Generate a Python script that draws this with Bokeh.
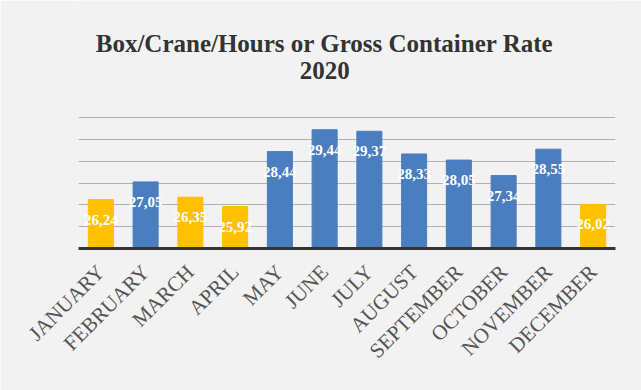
import math
from bokeh.plotting import figure
from bokeh.models import ColumnDataSource, FactorRange, Range1d, FixedTicker, LabelSet
from bokeh.core.properties import value
from bokeh.embed import file_html
from bokeh.resources import INLINE

months = ["JANUARY", "FEBRUARY", "MARCH", "APRIL", "MAY", "JUNE", "JULY",
          "AUGUST", "SEPTEMBER", "OCTOBER", "NOVEMBER", "DECEMBER"]
rates = [26.24, 27.05, 26.35, 25.92, 28.44, 29.44, 29.37, 28.33, 28.05, 27.34, 28.55, 26.02]
threshold = 27.0
y_ticks = [24, 25, 26, 27, 28, 29, 30]
title_lines = ["Box/Crane/Hours or Gross Container Rate", "2020"]

labels = [f"{v:.2f}".replace(".", ",") for v in rates]
colors = ["#FFC000" if v < threshold else "#4A7EBF" for v in rates]

src = ColumnDataSource(dict(month=months, rate=rates, label=labels, color=colors))

# frame reaches to the top of the canvas so the title can sit inside it
p = figure(width=641, height=390, output_backend="svg", toolbar_location=None,
           x_range=FactorRange(*months, range_padding=0),
           y_range=Range1d(y_ticks[0], 35.36),
           min_border_left=78, min_border_right=26, min_border_top=0, min_border_bottom=142)

p.vbar(x="month", top="rate", bottom=y_ticks[0], width=0.56, color="color", source=src)

p.add_layout(LabelSet(x="month", y="rate", text="label", source=src, y_offset=-20,
                      text_align="center", text_baseline="middle", text_color="white",
                      text_font="Liberation Serif", text_font_size="15px",
                      text_font_style="bold"))

# chart title: two centred lines
p.title.visible = False
p.text(x=[months[5], months[5]], y=[33.39, 32.15], text=title_lines,
       text_align="center", text_baseline="middle",
       text_font=value("Liberation Serif"), text_font_size="25px",
       text_font_style="bold", text_color="#333333")

p.yaxis.visible = False
p.ygrid.ticker = FixedTicker(ticks=y_ticks)
p.ygrid.grid_line_color = "#b0b0b0"
p.xgrid.grid_line_color = None

ax = p.xaxis[0]
ax.axis_line_width = 3
ax.axis_line_color = "#333333"
ax.major_tick_line_color = None
ax.minor_tick_line_color = None
ax.major_label_orientation = math.pi / 4
ax.major_label_text_font = "Liberation Serif"
ax.major_label_text_font_size = "21px"
ax.major_label_text_color = "#555555"
ax.major_label_standoff = 14

p.outline_line_color = None
p.background_fill_color = "#f2f2f2"
p.border_fill_color = "#f2f2f2"

open("out.html", "w").write(file_html(p, INLINE))
